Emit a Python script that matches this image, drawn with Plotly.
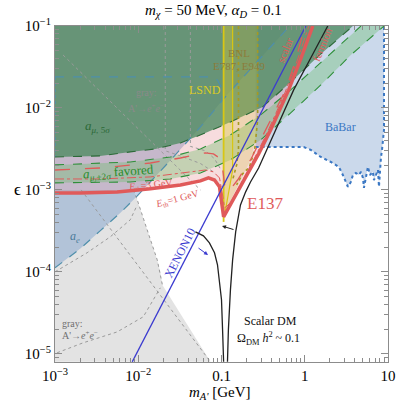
import plotly.graph_objects as go

# values: dark photon mass m_A' [GeV] and kinetic mixing epsilon
m_lo, m_hi = 1e-3, 10.0
eps_lo, eps_hi = 7.98e-6, 0.1

# a_mu 5 sigma exclusion (lower edge)
amu5_m = [1e-3, 3.48e-3, 8.01e-3, 1.60e-2, 3.21e-2, 6.41e-2, 0.128, 0.312, 0.678, 1.56, 3.79]
amu5_eps = [2.52e-3, 2.60e-3, 2.91e-3, 3.16e-3, 3.74e-3, 4.96e-3, 6.75e-3, 1.03e-2, 2.07e-2, 4.56e-2, 0.1]

# a_mu +-2 sigma favored band
amu2_up_m = [1e-3, 8.01e-3, 2.43e-2, 5.58e-2, 0.128, 0.295, 0.678, 1.79, 4.73]
amu2_up_eps = [2.02e-3, 2.19e-3, 2.52e-3, 3.16e-3, 4.69e-3, 8.22e-3, 1.66e-2, 4.07e-2, 0.1]
amu2_lo_m = [1e-3, 8.01e-3, 2.43e-2, 5.58e-2, 0.128, 0.295, 0.678, 1.56, 3.58, 8.95]
amu2_lo_eps = [1.22e-3, 1.25e-3, 1.36e-3, 1.61e-3, 2.32e-3, 4.07e-3, 8.69e-3, 1.91e-2, 4.43e-2, 0.1]

# E137 contours
e137_m = [1e-3, 2.0e-3, 5.58e-3, 1.40e-2, 3.21e-2, 5.58e-2, 6.97e-2, 8.24e-2, 9.46e-2, 0.106,
          0.144, 0.195, 0.279, 0.389, 0.641, 0.895, 1.25]
e137_eps = [9.19e-4, 9.19e-4, 9.46e-4, 1.03e-3, 1.15e-3, 1.29e-3, 1.40e-3, 1.32e-3, 1.09e-3, 4.69e-4,
            8.22e-4, 1.40e-3, 2.75e-3, 5.40e-3, 1.66e-2, 3.96e-2, 0.1]
e137b_m = [1e-3, 3.48e-3, 1.40e-2, 3.21e-2, 6.41e-2, 8.01e-2, 9.46e-2, 0.103, 0.109, 0.121,
           0.156, 0.223, 0.368, 0.590, 0.779, 1.0]
e137b_eps = [1.75e-3, 1.85e-3, 2.13e-3, 2.45e-3, 2.83e-3, 2.75e-3, 2.45e-3, 1.85e-3, 1.15e-3, 9.46e-4,
             1.32e-3, 2.32e-3, 6.38e-3, 1.66e-2, 3.85e-2, 0.1]
e137c_m = [1e-3, 3.48e-3, 1.40e-2, 3.68e-2, 6.41e-2, 8.01e-2, 9.46e-2, 0.103, 0.109, 0.128,
           0.169, 0.243, 0.348, 0.558, 0.801, 1.12]
e137c_eps = [1.36e-3, 1.36e-3, 1.44e-3, 1.61e-3, 1.75e-3, 1.66e-3, 1.40e-3, 8.69e-4, 6.03e-4, 6.94e-4,
             1.15e-3, 2.32e-3, 4.82e-3, 1.40e-2, 3.64e-2, 0.1]

# XENON10
xenon_m = [8.47e-3, 1.03]
xenon_eps = [7.98e-6, 0.1]

# relic density (scalar DM) curve, two branches around m_A' = 2 m_chi
relic_l_m = [4.86e-2, 6.07e-2, 7.16e-2, 8.24e-2, 8.95e-2, 9.46e-2, 0.100, 0.103, 0.106]
relic_l_eps = [3.08e-4, 2.75e-4, 2.26e-4, 1.71e-4, 1.22e-4, 7.98e-5, 4.56e-5, 1.96e-5, 7.98e-6]
relic_r_m = [0.118, 0.121, 0.128, 0.136, 0.148, 0.169, 0.195, 0.223, 0.279, 0.448, 0.736, 1.18, 1.89]
relic_r_eps = [7.98e-6, 1.96e-5, 6.03e-5, 1.40e-4, 3.08e-4, 6.56e-4, 9.46e-4, 1.25e-3, 1.85e-3,
               5.40e-3, 1.66e-2, 4.07e-2, 0.1]

# a_e
ae_m = [1e-3, 2e-3, 3.48e-3, 6.07e-3, 9.73e-3, 1.60e-2, 2.79e-2, 5.58e-2, 0.103, 0.169, 0.295, 0.514, 0.659]
ae_eps = [1.12e-4, 1.91e-4, 3.16e-4, 5.24e-4, 8.45e-4, 1.44e-3, 2.67e-3, 5.86e-3, 1.25e-2, 2.19e-2,
          4.07e-2, 7.55e-2, 0.1]

# LSND outline
lsnd_m = [1e-3, 7.37e-2, 8.95e-2, 0.100, 0.103]
lsnd_eps = [2.39e-2, 2.39e-2, 2.19e-2, 1.75e-2, 1.25e-2]
lsnd_strip_m = [0.106, 0.136, 0.136, 0.109, 0.106]
lsnd_strip_eps = [0.1, 0.1, 1.75e-3, 4.95e-4, 4.69e-4]

# BNL E787/E949
bnl_m = [0.106, 0.106, 0.121, 0.148, 0.184, 0.223, 0.257, 0.272, 0.272]
bnl_eps = [0.1, 4.69e-4, 6.56e-4, 1.0e-3, 1.57e-3, 2.32e-3, 4.07e-3, 7.14e-3, 0.1]
bnl_line1_m = [0.106, 0.106]
bnl_line1_eps = [0.1, 4.07e-4]
bnl_line2_m = [0.136, 0.136, 0.109]
bnl_line2_eps = [0.1, 1.75e-3, 4.95e-4]
bnl_dot1_m = [0.160, 0.160, 0.152, 0.136]
bnl_dot1_eps = [0.1, 3.08e-3, 2.02e-3, 1.32e-3]
bnl_dot2_m = [0.272, 0.272, 0.250, 0.217, 0.179, 0.152]
bnl_dot2_eps = [0.1, 7.14e-3, 3.08e-3, 1.91e-3, 1.57e-3, 1.15e-3]

# BaBar
babar_m = [0.257, 0.514, 0.973, 1.18, 1.56, 2.06, 2.57, 2.87, 3.12, 3.30, 3.58, 3.79, 4.11, 4.48, 4.73,
           5.00, 5.14, 5.43, 5.74, 6.07, 6.59, 6.78, 7.16, 7.58, 7.79, 8.01, 8.24, 8.47, 8.71, 8.95, 8.95]
babar_eps = [3.34e-3, 3.34e-3, 3.34e-3, 3.08e-3, 2.52e-3, 2.19e-3, 1.91e-3, 1.52e-3, 1.22e-3, 1.09e-3,
             1.25e-3, 1.52e-3, 1.61e-3, 1.52e-3, 1.66e-3, 1.40e-3, 1.06e-3, 1.44e-3, 1.91e-3, 1.52e-3,
             1.66e-3, 1.32e-3, 1.52e-3, 1.75e-3, 1.09e-3, 1.91e-3, 2.52e-3, 3.08e-3, 4.07e-3, 5.40e-3, 0.1]

# gray: A' -> e+e- (beam dumps etc.)
gray_m = [1e-3, 7.37e-2, 1.95e-2, 1.84e-2, 1.69e-2, 1.48e-2, 1.28e-2, 1.12e-2, 9.73e-3, 8.71e-3, 1e-3]
gray_eps = [7.98e-6, 7.98e-6, 6.93e-5, 1.0e-4, 1.40e-4, 2.13e-4, 3.25e-4, 4.95e-4, 7.55e-4, 1.0e-3, 1.0e-3]
gray_diag_m = [2.06e-3, 7.37e-2]
gray_diag_eps = [1.0e-3, 7.98e-6]
gray_arc_m = [8.71e-3, 9.73e-3, 1.28e-2, 1.69e-2, 1.95e-2]
gray_arc_eps = [1.0e-3, 7.55e-4, 3.25e-4, 1.40e-4, 6.93e-5]
gray_low_m = [1.06e-3, 2.17e-3, 5.58e-3, 1.15e-2, 1.84e-2]
gray_low_eps = [1.03e-5, 1.36e-5, 1.85e-5, 2.83e-5, 6.38e-5]
gray_up_m = [1e-3, 2.43e-3, 4.60e-3, 8.01e-3, 9.73e-3]
gray_up_eps = [1.0e-4, 1.71e-4, 2.67e-4, 4.31e-4, 6.56e-4]
gray_top_diag_m = [1.25e-3, 5.58e-2]
gray_top_diag_eps = [4.43e-2, 1.0e-3]
gray_v1_m = [2.11e-2, 2.11e-2, 3.21e-2, 5.58e-2, 8.47e-2]
gray_v1_eps = [0.1, 3.0e-3, 2.6e-3, 2.1e-3, 1.6e-3]
gray_v2_m = [4.23e-2, 4.23e-2, 6.41e-2, 8.24e-2, 9.73e-2]
gray_v2_eps = [0.1, 3.4e-3, 3.0e-3, 2.4e-3, 1.8e-3]

SERIF = "Liberation Serif, Times New Roman, serif"

fig = go.Figure()


def area(xs, ys, color):
    fig.add_trace(go.Scatter(x=xs, y=ys, mode="lines", fill="toself", fillcolor=color,
                             line=dict(width=0), hoverinfo="skip", showlegend=False))


def curve(xs, ys, color, width=1, dash="solid"):
    fig.add_trace(go.Scatter(x=xs, y=ys, mode="lines", line=dict(color=color, width=width, dash=dash),
                             hoverinfo="skip", showlegend=False))


# filled regions, back to front
area(gray_m, gray_eps, "rgba(227,227,227,1)")
area(ae_m + [m_lo], ae_eps + [eps_hi], "rgba(110,150,200,0.42)")
area(babar_m + [babar_m[0]], babar_eps + [eps_hi], "rgba(110,150,200,0.36)")
area(e137_m + [m_lo], e137_eps + [eps_hi], "rgba(215,80,90,0.2)")
area(amu2_up_m + amu2_lo_m[::-1], amu2_up_eps + amu2_lo_eps[::-1], "rgba(100,190,100,0.35)")
area(amu5_m + [m_lo], amu5_eps + [eps_hi], "rgba(75,138,95,0.78)")
area(bnl_m, bnl_eps, "rgba(210,190,40,0.24)")
area(lsnd_strip_m, lsnd_strip_eps, "rgba(225,215,60,0.2)")

# gray dotted outlines
for xs, ys in [(gray_diag_m, gray_diag_eps), (gray_arc_m, gray_arc_eps), (gray_low_m, gray_low_eps),
               (gray_up_m, gray_up_eps), (gray_top_diag_m, gray_top_diag_eps),
               (gray_v1_m, gray_v1_eps), (gray_v2_m, gray_v2_eps)]:
    curve(xs, ys, "#9a9a9a", 1, "dot")

curve(ae_m, ae_eps, "#4f8fab", 1.2, "dash")
curve(lsnd_m, lsnd_eps, "#4f8fab", 1.2, "dash")
curve([m_lo, m_lo], [lsnd_eps[0], amu5_eps[0]], "#4f8fab", 1.5, "dot")
curve(babar_m, babar_eps, "#3b78c4", 2, "dot")
curve(amu5_m, amu5_eps, "#2c6a38", 1.1, "dash")
curve(amu2_up_m, amu2_up_eps, "#2f8f3a", 1.1, "dash")
curve(amu2_lo_m, amu2_lo_eps, "#2f8f3a", 1.1, "dash")
curve(bnl_dot1_m, bnl_dot1_eps, "#a69a22", 1.6, "dot")
curve(bnl_dot2_m, bnl_dot2_eps, "#a69a22", 1.6, "dot")
curve(bnl_line1_m, bnl_line1_eps, "#d8c614", 1.8)
curve(bnl_line2_m, bnl_line2_eps, "#d8c614", 1.2)
curve(e137b_m, e137b_eps, "#e05a5a", 1.3, "longdash")
curve(e137c_m, e137c_eps, "#e05a5a", 1, "dashdot")
curve(e137_m, e137_eps, "#e05a5a", 3.5)
curve(xenon_m, xenon_eps, "#3b3bd0", 1.3)
curve(relic_l_m, relic_l_eps, "#222222", 1.3)
curve(relic_r_m, relic_r_eps, "#222222", 1.3)

# plot area in window pixels
W, H = 399, 405
PL, PR, PT, PB = 55, 388, 26, 362


def px(x):
    return (x - PL) / (PR - PL)


def py(y):
    return (PB - y) / (PB - PT)


def label(text, x, y, color, size, angle=0):
    fig.add_annotation(text=text, x=px(x), y=py(y), xref="paper", yref="paper", showarrow=False,
                       xanchor="center", yanchor="middle", textangle=angle,
                       font=dict(family=SERIF, size=size, color=color))


labels = [
    ("<i>a</i><sub><i>μ</i>, 5<i>σ</i></sub>", 97, 126, "#2c6a38", 13, 0),
    ("<i>a</i><sub><i>μ</i>,±2<i>σ</i></sub> favored", 118, 172, "#2a8c2a", 13, -4),
    ("<i>E</i><sub>th</sub>=3 GeV", 150, 185, "#e05a5a", 10, -6),
    ("<i>E</i><sub>th</sub>=1 GeV", 177, 200, "#e05a5a", 10, -15),
    ("E137", 265, 203, "#e05a5a", 17, 0),
    ("LSND", 205, 90, "#dccc24", 12, 0),
    ("BNL", 239, 53, "#8c7c3c", 11, 0),
    ("E787, E949", 239, 66, "#8c7c3c", 11, 0),
    ("scalar", 285, 50, "#e05a5a", 11, -68),
    ("fermion", 322, 45, "#e05a5a", 11, -68),
    ("XENON10", 180, 253, "#3b3bd0", 12, -63),
    ("<i>a<sub>e</sub></i>", 75, 237, "#4a7a98", 12, 0),
    ("BaBar", 340, 127, "#3b78c4", 12, 0),
    ("Scalar DM", 270, 321, "#111111", 12, 0),
    ("Ω<sub>DM</sub> <i>h</i><sup>2</sup> ~ 0.1", 268, 338, "#111111", 12, 0),
    ("gray:", 146, 93, "#8a8a8a", 10, 0),
    ("A'→<i>e</i><sup>+</sup><i>e</i><sup>−</sup>", 146, 108, "#8a8a8a", 10, 0),
    ("gray:", 72, 323, "#707070", 10, 0),
    ("A'→<i>e</i><sup>+</sup><i>e</i><sup>−</sup>", 80, 335, "#707070", 10, 0),
]
for row in labels:
    label(*row)

# titles
label("<i>m</i><sub><i>χ</i></sub> = 50 MeV, <i>α</i><sub><i>D</i></sub> = 0.1", 213, 11, "black", 15)
label("<i>m</i><sub><i>A'</i></sub> [GeV]", 220, 393, "black", 15)
label("ϵ", 17, 189, "black", 17)

# small arrows
fig.add_annotation(x=px(208), y=py(255), xref="paper", yref="paper", ax=-11, ay=-8, text="",
                   showarrow=True, arrowhead=2, arrowsize=0.8, arrowwidth=1, arrowcolor="#3b3bd0")
fig.add_annotation(x=px(222), y=py(226), xref="paper", yref="paper", ax=13, ay=4, text="",
                   showarrow=True, arrowhead=2, arrowsize=0.8, arrowwidth=1, arrowcolor="#222222")

minor_x = [k * 10.0 ** n for n in range(-3, 1) for k in range(2, 10)]
minor_y = [k * 10.0 ** n for n in range(-6, -1) for k in range(2, 10)]

axis_common = dict(type="log", showgrid=False, zeroline=False, showline=True, linecolor="#8c8c8c",
                   linewidth=1, mirror="allticks", ticks="inside", ticklen=7, tickcolor="#8c8c8c",
                   automargin=False, tickfont=dict(family=SERIF, size=15, color="black"))

fig.update_layout(
    width=W, height=H,
    margin=dict(l=PL, r=W - PR, t=PT, b=H - PB),
    paper_bgcolor="white", plot_bgcolor="white",
    xaxis=dict(range=[-3, 1], tickvals=[1e-3, 1e-2, 0.1, 1, 10],
               ticktext=["10<sup>−3</sup>", "10<sup>−2</sup>", "0.1", "1", "10"],
               minor=dict(tickvals=minor_x, ticks="inside", ticklen=4, tickcolor="#8c8c8c"),
               **axis_common),
    yaxis=dict(range=[-5.1, -1], tickvals=[1e-5, 1e-4, 1e-3, 1e-2, 0.1],
               ticktext=["10<sup>−5</sup>", "10<sup>−4</sup>", "10<sup>−3</sup>", "10<sup>−2</sup>",
                         "10<sup>−1</sup>"],
               minor=dict(tickvals=minor_y, ticks="inside", ticklen=4, tickcolor="#8c8c8c"),
               **axis_common),
)

# drop the default page margin so the 399x405 figure fills the window exactly
fig.write_html("out.html", config={"displayModeBar": False},
               post_script="document.body.style.margin='0';")
